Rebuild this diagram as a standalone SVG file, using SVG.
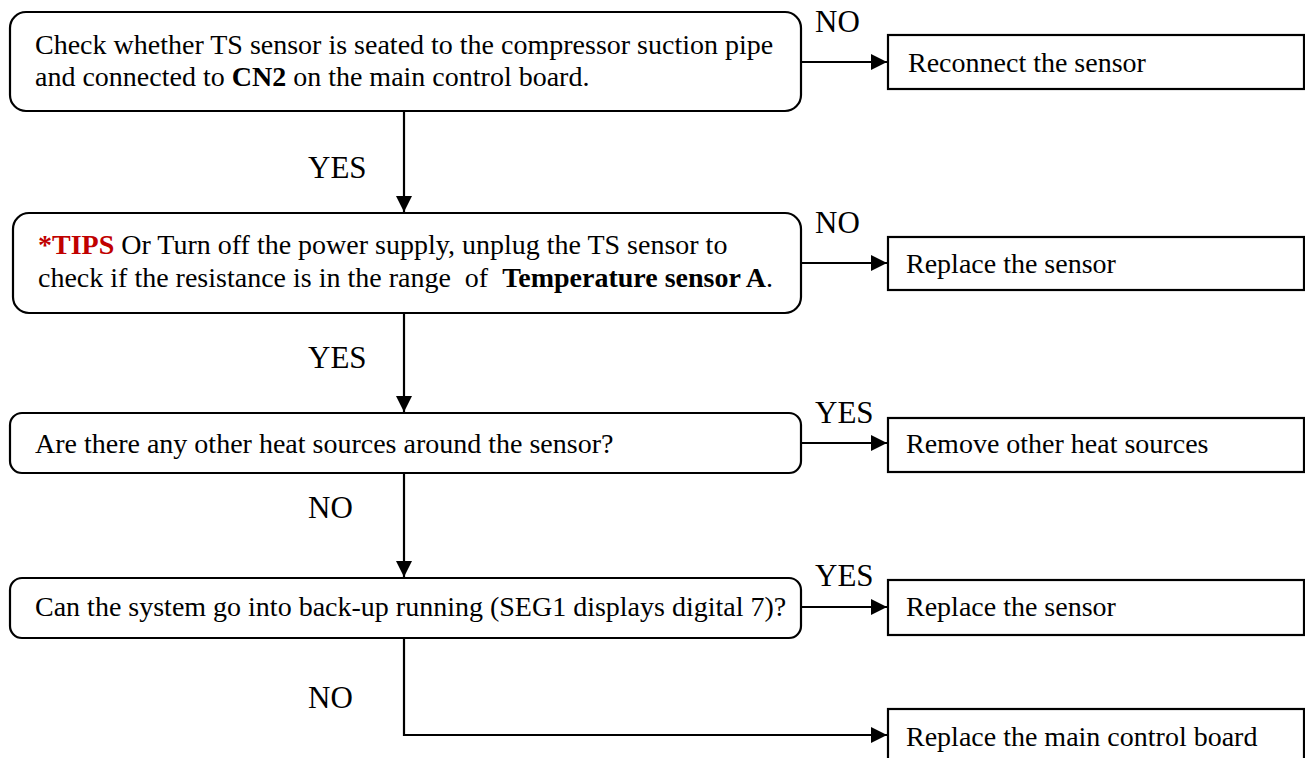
<svg xmlns="http://www.w3.org/2000/svg" width="1305" height="758" viewBox="0 0 1305 758">
<style>
  .dec { fill: #ffffff; stroke: #000000; stroke-width: 2.2; }
  .act { fill: #ffffff; stroke: #000000; stroke-width: 2.2; }
  .t { font-family: "Liberation Serif", "Times New Roman", serif; font-size: 28px; fill: #000000; white-space: pre; }
  .lbl { font-family: "Liberation Serif", "Times New Roman", serif; font-size: 31px; fill: #000000; }
  .b { font-weight: bold; }
  .red { fill: #C00000; font-weight: bold; }
  .con { fill: none; stroke: #000000; stroke-width: 2.2; }
</style>
<defs>
  <marker id="arr" markerUnits="userSpaceOnUse" markerWidth="16" markerHeight="16" viewBox="0 0 16 16" refX="16" refY="8" orient="auto">
    <path d="M0,0 L16,8 L0,16 Z" fill="#000000"/>
  </marker>
</defs>
<rect width="1305" height="758" fill="#ffffff"/>

<g id="connectors">
  <line class="con" x1="404" y1="111" x2="404" y2="212" marker-end="url(#arr)"/>
  <line class="con" x1="404" y1="314" x2="404" y2="412" marker-end="url(#arr)"/>
  <line class="con" x1="404" y1="474" x2="404" y2="577" marker-end="url(#arr)"/>
  <polyline class="con" points="404,639 404,735 887,735" marker-end="url(#arr)"/>
  <line class="con" x1="801" y1="62" x2="887" y2="62" marker-end="url(#arr)"/>
  <line class="con" x1="801" y1="263" x2="887" y2="263" marker-end="url(#arr)"/>
  <line class="con" x1="801" y1="443" x2="887" y2="443" marker-end="url(#arr)"/>
  <line class="con" x1="801" y1="607" x2="887" y2="607" marker-end="url(#arr)"/>
  <text class="lbl" x="815" y="32">NO</text>
  <text class="lbl" x="308" y="178">YES</text>
  <text class="lbl" x="815" y="233">NO</text>
  <text class="lbl" x="308" y="368">YES</text>
  <text class="lbl" x="815" y="423">YES</text>
  <text class="lbl" x="308" y="518">NO</text>
  <text class="lbl" x="815" y="586">YES</text>
  <text class="lbl" x="308" y="708">NO</text>
</g>

<g id="node-check-ts">
  <rect class="dec" x="10" y="12" width="791" height="99" rx="16" ry="16"/>
  <text class="t" x="35" y="54">Check whether TS sensor is seated to the compressor suction pipe</text>
  <text class="t" x="35" y="86">and connected to <tspan class="b">CN2</tspan> on the main control board.</text>
</g>

<g id="node-reconnect">
  <rect class="act" x="888" y="35" width="416" height="54"/>
  <text class="t" x="908" y="72">Reconnect the sensor</text>
</g>

<g id="node-resistance">
  <rect class="dec" x="13" y="213" width="788" height="100" rx="16" ry="16"/>
  <text class="t" x="38" y="254"><tspan class="red">*TIPS</tspan> Or Turn off the power supply, unplug the TS sensor to</text>
  <text class="t" x="38" y="287">check if the resistance is in the range  of  <tspan class="b">Temperature sensor A</tspan>.</text>
</g>

<g id="node-replace-sensor-1">
  <rect class="act" x="888" y="237" width="416" height="53"/>
  <text class="t" x="906" y="273">Replace the sensor</text>
</g>

<g id="node-heat-sources">
  <rect class="dec" x="10" y="413" width="791" height="60" rx="12" ry="12"/>
  <text class="t" x="35" y="453">Are there any other heat sources around the sensor?</text>
</g>

<g id="node-remove-heat">
  <rect class="act" x="888" y="418" width="416" height="54"/>
  <text class="t" x="906" y="453">Remove other heat sources</text>
</g>

<g id="node-backup">
  <rect class="dec" x="10" y="578" width="791" height="60" rx="12" ry="12"/>
  <text class="t" x="35" y="616">Can the system go into back-up running (SEG1 displays digital 7)?</text>
</g>

<g id="node-replace-sensor-2">
  <rect class="act" x="888" y="580" width="416" height="55"/>
  <text class="t" x="906" y="616">Replace the sensor</text>
</g>

<g id="node-replace-board">
  <rect class="act" x="888" y="709" width="416" height="60"/>
  <text class="t" x="906" y="746">Replace the main control board</text>
</g>
</svg>
